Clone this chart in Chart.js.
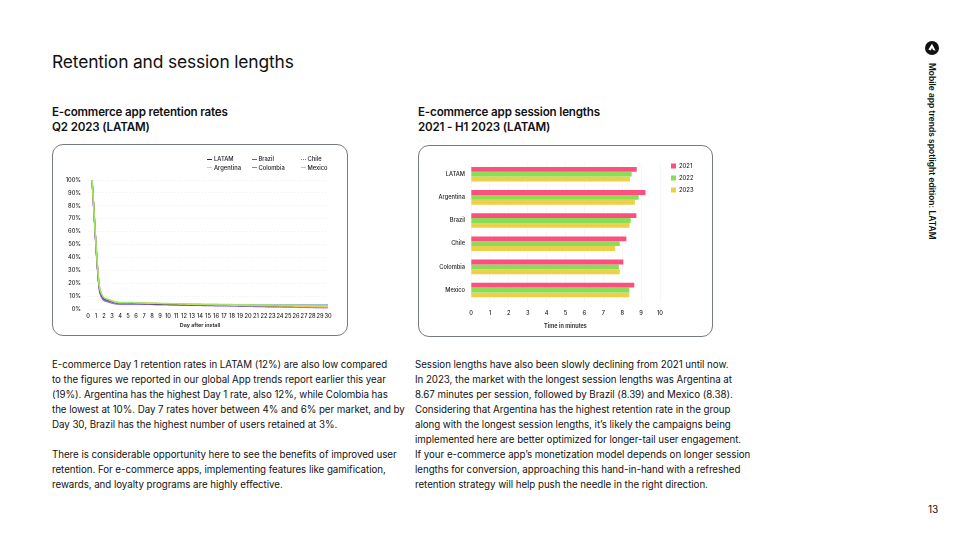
<!DOCTYPE html>
<html>
<head>
<meta charset="utf-8">
<script src="https://cdn.jsdelivr.net/npm/chart.js@4"></script>
<style>
  html, body { margin: 0; padding: 0; background: #fff; }
  body { width: 960px; height: 540px; position: relative; overflow: hidden; font-family: Inter, sans-serif; color: #111; }
  .abs { position: absolute; white-space: nowrap; }
  .title { left: 52px; top: 50px; font-size: 17.4px; line-height: 24px; font-weight: 400; letter-spacing: -0.15px; }
  .sub { font-size: 11.6px; line-height: 15px; font-weight: 600; letter-spacing: -0.16px; }
  .body { font-size: 9.75px; line-height: 15px; letter-spacing: -0.05px; }
  .panel { position: absolute; border: 1px solid #767b82; border-radius: 11px; }
  .panel canvas { position: absolute; left: 0; top: 0; }
  .legend { position: absolute; font-size: 5.8px; line-height: 8px; font-weight: 500; color: #222; white-space: nowrap; }
  .legend span.swatch { position: absolute; top: 3.5px; left: -7px; width: 5px; height: 0; border-top: 1px solid; }
  .axisName { position: absolute; left: 0; width: 294px; top: 176px; text-align: center; font-size: 5.4px; line-height: 8px; font-weight: 600; color: #222; }
</style>
</head>
<body>
<div class="abs title">Retention and session lengths</div>
<div class="abs sub" style="left:52px;top:105px">E-commerce app retention rates<br>Q2 2023 (LATAM)</div>
<div class="abs sub" style="left:418px;top:105px">E-commerce app session lengths<br>2021 - H1 2023 (LATAM)</div>

<div class="panel" style="left:52px;top:144px;width:294px;height:190px"><canvas id="retentionChart" width="294" height="190"></canvas><div id="lineLegend"></div><div class="axisName">Day after install</div></div>
<div class="panel" style="left:418px;top:145px;width:293px;height:190px"><canvas id="sessionChart" width="293" height="190"></canvas></div>

<div class="abs body" style="left:52px;top:357px">E-commerce Day 1 retention rates in LATAM (12%) are also low compared<br>to the figures we reported in our global App trends report earlier this year<br>(19%). Argentina has the highest Day 1 rate, also 12%, while Colombia has<br>the lowest at 10%. Day 7 rates hover between 4% and 6% per market, and by<br>Day 30, Brazil has the highest number of users retained at 3%.<br><br>There is considerable opportunity here to see the benefits of improved user<br>retention. For e-commerce apps, implementing features like gamification,<br>rewards, and loyalty programs are highly effective.</div>
<div class="abs body" style="left:415px;top:357px">Session lengths have also been slowly declining from 2021 until now.<br>In 2023, the market with the longest session lengths was Argentina at<br>8.67 minutes per session, followed by Brazil (8.39) and Mexico (8.38).<br>Considering that Argentina has the highest retention rate in the group<br>along with the longest session lengths, it’s likely the campaigns being<br>implemented here are better optimized for longer-tail user engagement.<br>If your e-commerce app’s monetization model depends on longer session<br>lengths for conversion, approaching this hand-in-hand with a refreshed<br>retention strategy will help push the needle in the right direction.</div>

<svg class="abs" style="left:925px;top:41px" width="14" height="14" viewBox="0 0 14 14"><circle cx="7" cy="7" r="7" fill="#111"/><path d="M7 2.8 L10.6 9.8 L8 9 L7 7 L5.6 9.6 L3.4 8.6 Z" fill="#fff"/></svg>
<div class="abs" style="left:937px;top:63px;font-size:8.5px;line-height:10px;font-weight:600;transform-origin:0 0;transform:rotate(90deg)">Mobile app trends spotlight edition: LATAM</div>
<div class="abs" style="left:928px;top:503px;font-size:10px;line-height:12px">13</div>

<script>
const dayTicks = ['0','1','2','3','4','5','6','7','8','9','10','11','12','13','14','15','16','17','18','19','20','21','22','23','24','25','26','27','28','29','30'];
// points sit half a step right of their tick in the original
const dayPositions = [0.5,1.5,2.5,3.5,4.5,5.5,6.5,7.5,8.5,9.5,10.5,11.5,12.5,13.5,14.5,15.5,16.5,17.5,18.5,19.5,20.5,21.5,22.5,23.5,24.5,25.5,26.5,27.5,28.5,29.5,30];

const latam     = [100,14,7,5,4.6,4.5,4.4,4.2,4,3.8,3.7,3.5,3.4,3.3,3.2,3.1,3,2.9,2.8,2.7,2.7,2.6,2.5,2.4,2.3,2.3,2.2,2.1,2.1,2,2];
const argentina = [100,15,7.5,5.4,5,5,4.8,4.6,4.4,4.2,4,3.9,3.7,3.5,3.4,3.2,3.1,3,2.9,2.8,2.7,2.6,2.5,2.4,2.3,2.2,2.1,2,1.9,1.8,1.7];
const brazil    = [100,13,6,4.3,3.8,3.8,3.7,3.6,3.5,3.4,3.3,3.3,3.2,3.2,3.1,3.1,3.1,3,3,3,3,2.9,2.9,2.9,2.9,2.9,2.9,2.9,2.9,3,3];
const chile     = [100,14,6.5,4.7,4.4,4.2,4,3.9,3.7,3.6,3.4,3.2,3,2.9,2.7,2.6,2.5,2.3,2.2,2.1,2,1.9,1.7,1.6,1.5,1.4,1.3,1.2,1.1,1,0.9];
const colombia  = [100,12,5.5,4,3.8,4,3.9,3.7,3.5,3.4,3.3,3.1,3,2.9,2.7,2.6,2.5,2.4,2.3,2.2,2,1.9,1.8,1.7,1.6,1.5,1.4,1.3,1.2,1.2,1.1];
const mexico    = [100,15,7.5,5.2,4.8,4.8,4.7,4.5,4.4,4.3,4.2,4.1,4,3.9,3.8,3.7,3.6,3.5,3.4,3.3,3.2,3.2,3.1,3,2.9,2.9,2.8,2.8,2.7,2.7,2.6];
const percentTicks = ['0%','10%','20%','30%','40%','50%','60%','70%','80%','90%','100%'];

const markets = ['LATAM','Argentina','Brazil','Chile','Colombia','Mexico'];
const session2021 = [8.77,9.23,8.75,8.22,8.06,8.64];
const session2022 = [8.5,8.87,8.45,7.87,7.82,8.38];
const session2023 = [8.41,8.67,8.39,7.63,7.87,8.38];
const sessionTicks = ['0','1','2','3','4','5','6','7','8','9','10'];

const chartFont = { family: 'Inter, sans-serif', size: 5.7, weight: '500' };
const axisTitleFont = { family: 'Inter, sans-serif', size: 5.6, weight: '600' };
Chart.defaults.animation = false;
Chart.defaults.responsive = false;

function pairUp(values) {
  return values.map((v, i) => ({ x: dayPositions[i], y: v }));
}

const lineSeries = [
  { label: 'Mexico',    data: mexico,    color: '#9be86a', dash: [] },
  { label: 'Argentina', data: argentina, color: '#f0cf4a', dash: [] },
  { label: 'LATAM',     data: latam,     color: '#2b2d42', dash: [] },
  { label: 'Colombia',  data: colombia,  color: '#a06bf0', dash: [] },
  { label: 'Brazil',    data: brazil,    color: '#3f63f2', dash: [] },
  { label: 'Chile',     data: chile,     color: '#f0477a', dash: [1, 1.5] }
];

new Chart(document.getElementById('retentionChart'), {
  type: 'line',
  data: {
    datasets: lineSeries.map(s => ({
      label: s.label,
      data: pairUp(s.data),
      borderColor: s.color,
      borderWidth: 1.4,
      borderDash: s.dash,
      pointRadius: 0,
      cubicInterpolationMode: 'monotone'
    }))
  },
  options: {
    layout: { padding: { top: 35, bottom: 0, left: 0, right: 19 } },
    plugins: { legend: { display: false }, tooltip: { enabled: false } },
    scales: {
      x: {
        type: 'linear', min: 0, max: 30,
        afterBuildTicks: axis => { axis.ticks = dayTicks.map(t => ({ value: Number(t) })); },
        afterFit: axis => { axis.height = 26; },
        grid: { display: false, drawTicks: false },
        border: { display: false },
        ticks: { autoSkip: false, maxRotation: 0, color: '#222', font: chartFont, padding: 4, callback: v => dayTicks[v] }
      },
      y: {
        min: 0, max: 100,
        afterFit: axis => { axis.width = 35; },
        afterBuildTicks: axis => { axis.ticks = percentTicks.map(t => ({ value: parseInt(t) })); },
        grid: { color: '#e4e4e4', lineWidth: 0.6, drawTicks: false },
        border: { display: false, dash: [1, 2] },
        ticks: { color: '#222', font: chartFont, padding: 7, callback: v => percentTicks[v / 10] }
      }
    }
  }
});

// legend laid out in columns like the original, generated from the series
const legendOrder = ['LATAM','Brazil','Chile','Argentina','Colombia','Mexico'];
const legendCols = [161, 205.5, 254.5];
const legendBox = document.getElementById('lineLegend');
legendOrder.forEach((name, i) => {
  const s = lineSeries.find(d => d.label === name);
  const el = document.createElement('div');
  el.className = 'legend';
  el.style.left = legendCols[i % 3] + 'px';
  el.style.top = (10 + Math.floor(i / 3) * 8.5) + 'px';
  const sw = document.createElement('span');
  sw.className = 'swatch';
  sw.style.borderColor = s.color;
  if (s.dash.length) sw.style.borderTopStyle = 'dotted';
  el.appendChild(sw);
  el.appendChild(document.createTextNode(name));
  legendBox.appendChild(el);
});

new Chart(document.getElementById('sessionChart'), {
  type: 'bar',
  data: {
    labels: markets,
    datasets: [
      { label: '2021', data: session2021, backgroundColor: '#fb4f7d' },
      { label: '2022', data: session2022, backgroundColor: '#88de56' },
      { label: '2023', data: session2023, backgroundColor: '#eecf49' }
    ]
  },
  options: {
    indexAxis: 'y',
    layout: { padding: { top: 16.6, right: 52, bottom: 0, left: 0 } },
    plugins: {
      tooltip: { enabled: false },
      legend: { display: false }
    },
    datasets: { bar: { categoryPercentage: 0.63, barPercentage: 1 } },
    scales: {
      x: {
        min: 0, max: 10,
        afterBuildTicks: axis => { axis.ticks = sessionTicks.map(t => ({ value: Number(t) })); },
        afterFit: axis => { axis.height = 34.4; },
        grid: { color: '#f2f2f2', lineWidth: 0.6, drawTicks: false },
        border: { display: false },
        ticks: { color: '#222', font: chartFont, padding: 8, callback: v => sessionTicks[v] },
        title: { display: true, text: 'Time in minutes', color: '#222', font: axisTitleFont, padding: { top: 2, bottom: 6 } }
      },
      y: {
        afterFit: axis => { axis.width = 52; },
        grid: { display: false, drawTicks: false },
        border: { display: false },
        ticks: { color: '#222', font: chartFont, padding: 6 }
      }
    }
  },
  plugins: [{
    id: 'sideLegend',
    afterDraw(chart) {
      const ctx = chart.ctx;
      const rows = [20, 32, 44];
      chart.data.datasets.forEach((d, i) => {
        ctx.fillStyle = d.backgroundColor;
        ctx.fillRect(252, rows[i] - 2.5, 5, 5);
        ctx.fillStyle = '#222';
        ctx.font = '500 5.8px Inter, sans-serif';
        ctx.textBaseline = 'middle';
        ctx.fillText(d.label, 260, rows[i]);
      });
    }
  }]
});
</script>
</body>
</html>
